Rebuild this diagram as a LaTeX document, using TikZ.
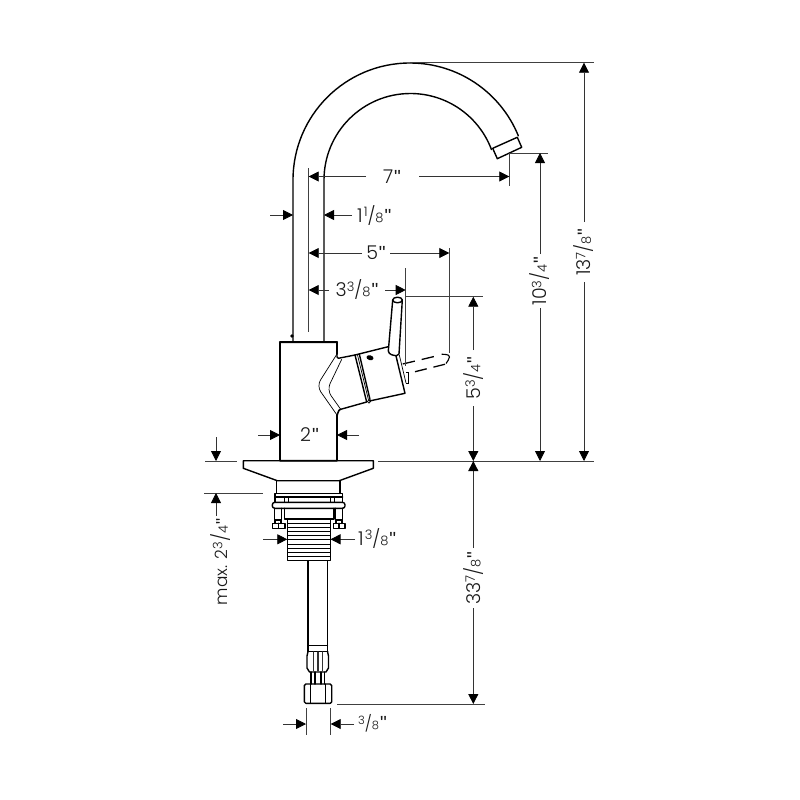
\documentclass[tikz,border=0pt]{standalone}
\usepackage{fontspec}
\setmainfont{Poppins}[UprightFont=* Light]
\newfontfamily\qfont{Liberation Sans}
\usetikzlibrary{arrows.meta}
\newcommand\frc[2]{{\fontsize{13}{13}\selectfont\raisebox{5.5pt}{#1}{\fontsize{18}{18}\selectfont/}#2}}
\newcommand\frcs[2]{{\fontsize{11.5}{11.5}\selectfont\raisebox{5pt}{#1}{\fontsize{16}{16}\selectfont/}#2}}
\newcommand\qt{{\qfont\kern1pt"}}
\tikzset{
 outl/.style={line width=1.4pt,line join=round,line cap=round},
 thn/.style={line width=.7pt},
 ext/.style={line width=.8pt,black!75},
 dimn/.style={line width=.8pt,black!80,-{Triangle[length=10pt,width=10pt,black]}},
 lbl/.style={font=\fontsize{19}{20}\selectfont,text=black!90,inner sep=0pt},
}
\begin{document}
\begin{tikzpicture}[x=1pt,y=-1pt]
\useasboundingbox (0,0) rectangle (800,800);
% spout
\draw[outl] (293,342) -- (293,180) arc[start angle=180,end angle=22.2,x radius=117,y radius=-117];
\draw[outl] (324,342) -- (324,180) arc[start angle=180,end angle=20.6,x radius=86.5,y radius=-86.5];
\draw[outl] (492.7,148.3) -- (517.3,137.3) -- (521.7,147.3) -- (497.3,158.7) -- cycle;
\fill (292,336) circle (1.8);
% body
\draw[outl,line width=1.6pt] (337,354) -- (337,342.3) -- (280,342.3) -- (280,460.7) -- (337,460.7) -- (337,415) to[out=-90,in=165] (340.7,409.3);
\draw[outl,line width=2.2pt] (280,342.3) -- (337,342.3);
\draw[outl] (337,354) to[out=-90,in=195] (338.3,358.3) -- (355,355);
\draw[thn,rounded corners=7pt] (337,354) -- (316.7,386) -- (337,415);
\draw[thn,rounded corners=7pt] (341.7,359.3) -- (327,390) -- (340.7,409.3);
% handle
\draw[outl] (355,355) -- (366.7,402) -- (340.7,409.3);
\draw[outl] (359.3,354) -- (370,399.5);
\draw[thn] (357.5,355) -- (368.5,400);
\draw[outl] (355,355) -- (388.3,346.7);
\draw[outl] (369.5,401) -- (405,393.3) -- (396,356);
\draw[thn] (399.3,355) -- (406,383);
\draw[thn] (406,372.3) -- (408.3,372.3) -- (408.3,383.3) -- (406,383.3);
\draw[thn] (369,401.5) circle (1.7);
\fill[rotate around={-15:(370,357.7)}] (370,357.7) ellipse[x radius=3.6,y radius=2.4];
% lever
\draw[outl] (392.7,300) -- (388.3,351) to[out=-80,in=175] (396.5,355.7) (402.3,300) -- (399,354) -- (396.5,355.7);
\draw[outl] (397.5,300) ellipse[x radius=4.8,y radius=2.8];
% dashed lever position
\draw[line width=1.3pt,dash pattern=on 12.5pt off 7pt] (402.7,364) -- (435,356.3);
\draw[line width=1.3pt,dash pattern=on 12pt off 7pt] (415,371.7) -- (446,364);
\draw[line width=1.1pt] (441.7,354.2) to[out=0,in=170] (446,354.5) to[out=-10,in=80] (449.5,357) to[out=-100,in=60] (446,363.5);
% flange
\draw[outl] (243.3,460.7) -- (373.3,460.7) -- (373.3,468.3) -- (339.3,480.7) -- (277.3,480.7) -- (243.3,468.3) -- cycle;
\draw[outl] (276.7,480.7) -- (276.7,493.3) (340,480.7) -- (340,493.3);
\draw[outl] (275,493.3) rectangle (342.3,502.3);
\draw[outl,line width=2pt] (275,497) -- (342.3,497);
\draw[thn] (284,497) -- (284,502.3) (288,497) -- (288,502.3) (330,497) -- (330,502.3) (334,497) -- (334,502.3);
\draw[outl,rounded corners=2.5pt] (272.3,502.3) rectangle (345,508.3);
\draw[outl] (274.3,508.3) -- (274.3,520) -- (281.7,520) -- (281.7,508.3);
\draw[outl] (335.7,508.3) -- (335.7,520) -- (342.3,520) -- (342.3,508.3);
\draw[outl] (275,520) -- (275,523.3) (281,520) -- (281,523.3) (336,520) -- (336,523.3) (342,520) -- (342,523.3);
\draw[outl] (272.3,523.3) rectangle (285,528.3) (278.5,523.3) -- (278.5,528.3);
\draw[outl] (333.3,523.3) rectangle (345,528.3) (339,523.3) -- (339,528.3);
\draw[outl] (284.3,508.3) -- (284.3,519) -- (334,519) -- (334,508.3);
% threads
\draw[outl] (287.3,519) rectangle (330.5,560.7);
\foreach \yy in {523.4,527.5,531.6,535.7,539.8,543.9,548,552.1,556.2}
  \draw[thn] (287.3,\yy) -- (330.5,\yy);
% pipe
\draw[outl] (308,560.7) -- (308,651.5) (327.5,560.7) -- (327.5,651.5);
\draw[outl] (308,645.5) -- (327.5,645.5);
\draw[outl,line width=1.8pt] (308,651.5) -- (327.5,651.5);
\draw[outl] (308,651.5) -- (307,656) -- (307,668) -- (309.5,672) -- (326,672) -- (328.5,668) -- (328.5,656) -- (327.5,651.5);
\draw[outl,line width=1.1pt,black!80] (313.5,652) -- (313.5,671) (318,652) -- (318,671) (322.5,652) -- (322.5,671);
\draw[outl] (311,672) -- (311,684) (324.5,672) -- (324.5,684) (315,672) -- (315,684) (321,672) -- (321,684);
\draw[outl,rounded corners=1.5pt] (304.3,684) rectangle (331.7,703.3);
\draw[outl,line width=1pt] (310.7,684) -- (310.7,703.3) (325.7,684) -- (325.7,703.3);
% labels
\node[lbl] (d7) at (392,176.5) {7\qt};
\node[lbl,anchor=west] (d118) at (357,215.5) {1\kern1pt\frc{1}{8}\qt};
\node[lbl] (d5) at (376,253) {5\qt};
\node[lbl] (d338) at (357,290) {3\frc{3}{8}\qt};
\node[lbl] (d2) at (309.5,434.5) {2\qt};
\node[lbl,anchor=west] (d138) at (358,538.5) {1\kern1pt\frc{3}{8}\qt};
\node[lbl,anchor=west] (d38) at (358,723.5) {\frcs{3}{8}\qt};
\node[lbl,rotate=90] (d1378) at (584,252) {13\frc{7}{8}\qt};
\node[lbl,rotate=90] (d1034) at (540,281) {10\frc{3}{4}\qt};
\node[lbl,rotate=90] (d534) at (473.3,378) {5\frc{3}{4}\qt};
\node[lbl,rotate=90] (d3378) at (473.3,578) {33\frc{7}{8}\qt};
\node[lbl,rotate=90,font=\fontsize{17}{18}\selectfont] (dmax) at (221,562) {max. 2\frc{3}{4}\qt};
% extension lines
\draw[ext] (410,62.7) -- (594,62.7);
\draw[ext] (510,153) -- (548,153);
\draw[ext] (405,296.7) -- (483,296.7);
\draw[ext] (378,461) -- (594,461);
\draw[ext] (205,461) -- (237,461);
\draw[ext] (204,493) -- (263,493);
\draw[ext] (337,704) -- (485,704);
\draw[ext] (308.7,168) -- (308.7,332);
\draw[ext] (509.3,153) -- (509.3,186);
\draw[ext] (449.3,248) -- (449.3,353);
\draw[ext] (405.7,268) -- (405.7,366);
\draw[ext] (306,708) -- (306,735);
\draw[ext] (330.7,708) -- (330.7,735);
% dimensions
\draw[dimn] (366,176.5) -- (308.7,176.5);
\draw[dimn] (419,176.5) -- (509.3,176.5);
\draw[dimn] (270,215) -- (293,215);
\draw[dimn] (352,215) -- (324,215);
\draw[dimn] (362,253) -- (308.7,253);
\draw[dimn] (390,253) -- (449.3,253);
\draw[dimn] (329,290) -- (308.7,290);
\draw[dimn] (385,290) -- (405.7,290);
\draw[dimn] (258,435) -- (280,435);
\draw[dimn] (359,435) -- (337,435);
\draw[dimn] (263,539.3) -- (287.3,539.3);
\draw[dimn] (355,539.3) -- (330.5,539.3);
\draw[dimn] (283,724) -- (306,724);
\draw[dimn] (354,724) -- (330.7,724);
\draw[dimn] (584,222) -- (584,62.7);
\draw[dimn] (584,282) -- (584,461);
\draw[dimn] (540,254) -- (540,153);
\draw[dimn] (540,308) -- (540,461);
\draw[dimn] (473.3,350) -- (473.3,296.7);
\draw[dimn] (473.3,406) -- (473.3,461);
\draw[dimn] (473.3,548) -- (473.3,461);
\draw[dimn] (473.3,608) -- (473.3,704);
\draw[dimn] (216,437) -- (216,461);
\draw[dimn] (216,516) -- (216,493);
\end{tikzpicture}
\end{document}
